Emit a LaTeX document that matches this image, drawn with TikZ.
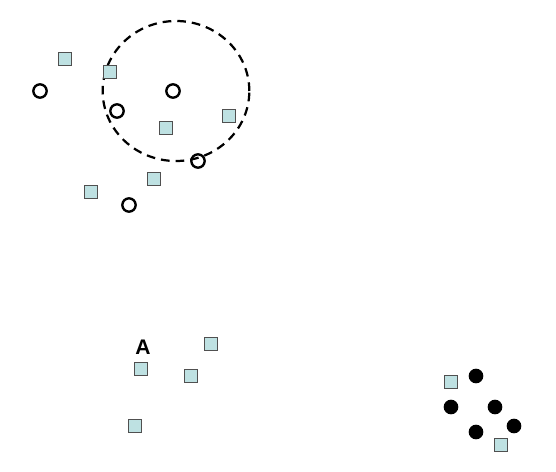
\documentclass[tikz,border=0pt]{standalone}
\usepackage{fontspec}
\setsansfont{Liberation Sans}
\usetikzlibrary{shapes.geometric}
\definecolor{sqfill}{RGB}{190,225,226}
\definecolor{sqedge}{RGB}{80,80,80}
\tikzset{
  sample/.style={draw=sqedge, fill=sqfill, line width=0.8pt, minimum size=0.39cm, inner sep=0pt},
  open/.style={circle, draw=black, line width=2pt, minimum size=0.4cm, inner sep=0pt},
  solid dot/.style={circle, fill=black, minimum size=0.44cm, inner sep=0pt},
  zone/.style={ellipse, draw=black, line width=1.9pt, dash pattern=on 2.6mm off 1.8mm, minimum width=4.4cm, minimum height=4.2cm, inner sep=0pt}
}
\begin{document}
\begin{tikzpicture}[x=0.03cm, y=-0.03cm]
\useasboundingbox (0,0) rectangle (556,471);
% neighbourhood
\node[zone] (nbhd) at (176,91) {};
% squares, top cluster
\node[sample] (s1) at (65,59) {};
\node[sample] (s2) at (110,72) {};
\node[sample] (s3) at (166,128) {};
\node[sample] (s4) at (229,116) {};
\node[sample] (s5) at (154,179) {};
\node[sample] (s6) at (91,192) {};
% open circles
\node[open] (c1) at (40,91) {};
\node[open] (c2) at (173,91) {};
\node[open] (c3) at (117,111) {};
\node[open] (c4) at (198,161) {};
\node[open] (c5) at (129,205) {};
% squares, bottom left
\node[font=\sffamily\bfseries\fontsize{18}{21}\selectfont] (lblA) at (143,347) {A};
\node[sample] (s7) at (141,369) {};
\node[sample] (s8) at (191,376) {};
\node[sample] (s9) at (211,344) {};
\node[sample] (s10) at (135,426) {};
% bottom right
\node[sample] (s11) at (451,382) {};
\node[sample] (s12) at (501,445) {};
\node[solid dot] (d1) at (476,376) {};
\node[solid dot] (d2) at (451,407) {};
\node[solid dot] (d3) at (495,407) {};
\node[solid dot] (d4) at (514,426) {};
\node[solid dot] (d5) at (476,432) {};
\end{tikzpicture}
\end{document}
